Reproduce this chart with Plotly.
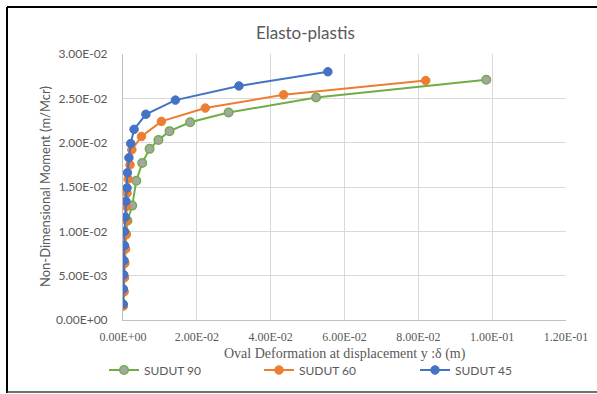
import plotly.graph_objects as go

# ---- data ----
x_sudut90 = [0.0000, 0.0001, 0.0002, 0.0003, 0.0005, 0.0008, 0.0012, 0.0025, 0.0036,
             0.0052, 0.0072, 0.0096, 0.0126, 0.0182, 0.0286, 0.0523, 0.0984]
y_sudut90 = [0.0016, 0.0032, 0.0048, 0.0064, 0.0081, 0.0097, 0.0112, 0.0129, 0.0157,
             0.0177, 0.0193, 0.0203, 0.0213, 0.0223, 0.0234, 0.0251, 0.0271]

x_sudut60 = [0.0001, 0.0003, 0.0004, 0.0005, 0.0007, 0.0008, 0.0010, 0.0009, 0.0011,
             0.0014, 0.0019, 0.0024, 0.0050, 0.0104, 0.0223, 0.0435, 0.0820]
y_sudut60 = [0.0016, 0.0032, 0.0048, 0.0064, 0.0080, 0.0096, 0.0112, 0.0128, 0.0143,
             0.0159, 0.0175, 0.0192, 0.0207, 0.0224, 0.0239, 0.0254, 0.0270]

x_sudut45 = [0.00005, 0.0001, 0.0002, 0.0003, 0.0004, 0.0004, 0.0006, 0.0008, 0.0011,
             0.0012, 0.0016, 0.0021, 0.0030, 0.0062, 0.0142, 0.0314, 0.0555]
y_sudut45 = [0.0018, 0.0035, 0.0051, 0.0067, 0.0084, 0.0100, 0.0116, 0.0134, 0.0149,
             0.0166, 0.0183, 0.0199, 0.0215, 0.0232, 0.0248, 0.0264, 0.0280]

x_tickvals = [0, 0.02, 0.04, 0.06, 0.08, 0.10, 0.12]
x_ticktext = ["0.00E+00", "2.00E-02", "4.00E-02", "6.00E-02", "8.00E-02", "1.00E-01", "1.20E-01"]
y_tickvals = [0, 0.005, 0.010, 0.015, 0.020, 0.025, 0.030]
y_ticktext = ["0.00E+00", "5.00E-03", "1.00E-02", "1.50E-02", "2.00E-02", "2.50E-02", "3.00E-02"]

series_names = ["SUDUT 90", "SUDUT 60", "SUDUT 45"]

GREEN = "#70ad47"
ORANGE = "#ed7d31"
BLUE = "#4472c4"
GREY_TXT = "#595959"
SANS = "Lato, 'Open Sans', sans-serif"
SERIF = "'Liberation Serif', 'DejaVu Serif', serif"

L, R, T, B = 123, 566, 54, 320
PW, PH = R - L, B - T


def px_x(px):
    return (px - L) / PW


def px_y(py):
    return (B - py) / PH


fig = go.Figure()
fig.add_trace(go.Scatter(
    x=x_sudut90, y=y_sudut90, name=series_names[0], mode="lines+markers",
    legend="legend",
    line=dict(color=GREEN, width=2),
    marker=dict(size=8.5, color="#a5a5a5", line=dict(color=GREEN, width=1.5))))
fig.add_trace(go.Scatter(
    x=x_sudut60, y=y_sudut60, name=series_names[1], mode="lines+markers",
    legend="legend2",
    line=dict(color=ORANGE, width=2),
    marker=dict(size=8.5, color=ORANGE, line=dict(color=ORANGE, width=1))))
fig.add_trace(go.Scatter(
    x=x_sudut45, y=y_sudut45, name=series_names[2], mode="lines+markers",
    legend="legend3",
    line=dict(color=BLUE, width=2),
    marker=dict(size=8.5, color=BLUE, line=dict(color=BLUE, width=1))))

leg_common = dict(orientation="h", xanchor="left", yanchor="middle",
                  font=dict(family=SANS, size=12, color=GREY_TXT),
                  itemwidth=30, bgcolor="rgba(0,0,0,0)", borderwidth=0)

frame = dict(type="line", xref="paper", yref="paper", line=dict(color="black", width=2),
             layer="below")

fig.update_layout(
    width=597, height=394,
    margin=dict(l=L, r=597 - R, t=T, b=394 - B, autoexpand=False),
    paper_bgcolor="white", plot_bgcolor="white",
    showlegend=True,
    legend=dict(x=px_x(104), y=px_y(370), **leg_common),
    legend2=dict(x=px_x(259), y=px_y(370), **leg_common),
    legend3=dict(x=px_x(415), y=px_y(370), **leg_common),
    xaxis=dict(range=[0, 0.12], tickvals=x_tickvals, ticktext=x_ticktext,
               showgrid=True, gridcolor="#d9d9d9", gridwidth=1, automargin=False,
               zeroline=False, showline=True, linecolor="#bfbfbf", linewidth=1,
               ticks="", ticklabelstandoff=6,
               tickfont=dict(family=SERIF, size=12, color=GREY_TXT)),
    yaxis=dict(range=[0, 0.030], tickvals=y_tickvals, ticktext=y_ticktext,
               showgrid=True, gridcolor="#d9d9d9", gridwidth=1, automargin=False,
               zeroline=False, showline=True, linecolor="#bfbfbf", linewidth=1,
               ticks="", ticklabelstandoff=12,
               tickfont=dict(family=SANS, size=12, color=GREY_TXT)),
    annotations=[
        dict(text="Elasto-plastis", xref="paper", yref="paper",
             x=px_x(305), y=px_y(32), xanchor="center", yanchor="middle",
             showarrow=False, font=dict(family=SANS, size=17, color=GREY_TXT)),
        dict(text="Oval Deformation at displacement y :δ (m)", xref="paper", yref="paper",
             x=px_x(345), y=px_y(354), xanchor="center", yanchor="middle",
             showarrow=False, font=dict(family=SERIF, size=14, color=GREY_TXT)),
        dict(text="Non-Dimensional Moment (m/Mcr)", xref="paper", yref="paper",
             x=px_x(45), y=px_y(187), xanchor="center", yanchor="middle",
             textangle=-90, showarrow=False,
             font=dict(family=SANS, size=13, color=GREY_TXT)),
    ],
    shapes=[
        dict(frame, x0=px_x(7), x1=px_x(7), y0=px_y(393), y1=px_y(7)),
        dict(frame, x0=px_x(7), x1=px_x(597), y0=px_y(7), y1=px_y(7)),
        dict(frame, x0=px_x(7), x1=px_x(597), y0=px_y(392), y1=px_y(392),
             line=dict(color="#404040", width=1.5)),
    ],
)

fig.write_html("out.html", config={"displayModeBar": False},
               post_script="document.body.style.margin='0';document.body.style.overflow='hidden';")
